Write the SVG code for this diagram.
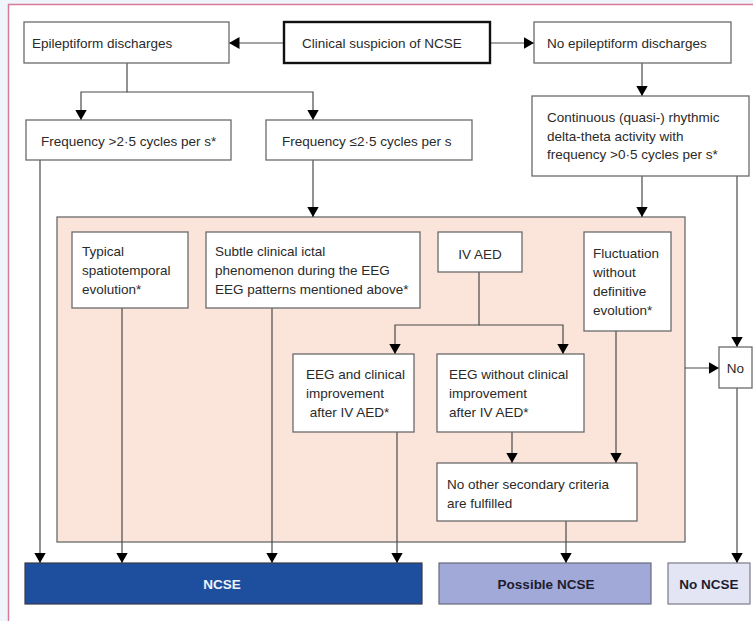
<svg xmlns="http://www.w3.org/2000/svg" width="753" height="621" viewBox="0 0 753 621">
  <style>
    .box { fill: #ffffff; stroke: #6a6a6a; stroke-width: 1.3; }
    .t { font-family: "Liberation Sans", Arial, sans-serif; font-size: 13.5px; fill: #2a2a2a; }
    .tb { font-family: "Liberation Sans", Arial, sans-serif; font-size: 13.5px; font-weight: bold; text-anchor: middle; }
    .conn path { fill: none; stroke: #4a4a4a; stroke-width: 1.2; }
    .arrow { marker-end: url(#head); }
  </style>
  <defs>
    <marker id="head" markerUnits="userSpaceOnUse" markerWidth="11" markerHeight="12" refX="10.5" refY="6" orient="auto">
      <path d="M0,0 L10.5,6 L0,12 z" fill="#000000"/>
    </marker>
  </defs>

  <!-- page frame -->
  <rect x="0" y="0" width="753" height="621" fill="#eef6fb"/>
  <rect x="8" y="4" width="745" height="617" fill="#ffffff"/>
  <path d="M8.5,621 V4.5 H753" fill="none" stroke="#d9789a" stroke-width="1.5"/>

  <!-- shaded secondary-criteria panel -->
  <g id="panel">
    <rect x="57" y="217" width="628" height="325" fill="#fbe4d9" stroke="#6a6a6a" stroke-width="1.3"/>
  </g>

  <g class="conn">
    <path class="arrow" d="M284,43 H229"/>
    <path class="arrow" d="M490,43 H534"/>
    <path class="arrow" d="M127,63 V92 H81 V120"/>
    <path class="arrow" d="M127,92 H313 V120"/>
    <path class="arrow" d="M40,160 V563"/>
    <path class="arrow" d="M313,160 V217"/>
    <path class="arrow" d="M642,63 V96"/>
    <path class="arrow" d="M642,176 V217"/>
    <path class="arrow" d="M737,176 V347"/>
    <path class="arrow" d="M122,308 V563"/>
    <path class="arrow" d="M272,308 V563"/>
    <path class="arrow" d="M479,272 V325 H395 V354"/>
    <path class="arrow" d="M479,325 H563 V354"/>
    <path class="arrow" d="M397,432 V563"/>
    <path class="arrow" d="M512,432 V463"/>
    <path class="arrow" d="M616,331 V463"/>
    <path class="arrow" d="M566,521 V563"/>
    <path class="arrow" d="M685,368 H719"/>
    <path class="arrow" d="M737,388 V563"/>
  </g>

  <g id="clinical-suspicion">
    <rect x="284" y="22" width="206" height="41" fill="#ffffff" stroke="#111111" stroke-width="2.4"/>
    <text class="t" x="302" y="48">Clinical suspicion of NCSE</text>
  </g>

  <g id="epileptiform">
    <rect class="box" x="24" y="22" width="205" height="41"/>
    <text class="t" x="32" y="48">Epileptiform discharges</text>
  </g>

  <g id="no-epileptiform">
    <rect class="box" x="534" y="22" width="197" height="41"/>
    <text class="t" x="547" y="48">No epileptiform discharges</text>
  </g>

  <g id="freq-high">
    <rect class="box" x="26" y="120" width="205" height="40"/>
    <text class="t" x="41" y="146">Frequency &gt;2·5 cycles per s*</text>
  </g>

  <g id="freq-low">
    <rect class="box" x="266" y="120" width="206" height="40"/>
    <text class="t" x="282" y="146">Frequency ≤2·5 cycles per s</text>
  </g>

  <g id="rhythmic-delta-theta">
    <rect class="box" x="532" y="96" width="217" height="80"/>
    <text class="t" x="547" y="122">Continuous (quasi-) rhythmic</text>
    <text class="t" x="547" y="141">delta-theta activity with</text>
    <text class="t" x="547" y="159">frequency &gt;0·5 cycles per s*</text>
  </g>

  <g id="typical-evolution">
    <rect class="box" x="72" y="232" width="116" height="76"/>
    <text class="t" x="82" y="256">Typical</text>
    <text class="t" x="82" y="275">spatiotemporal</text>
    <text class="t" x="82" y="294">evolution*</text>
  </g>

  <g id="subtle-ictal">
    <rect class="box" x="206" y="232" width="214" height="76"/>
    <text class="t" x="215" y="256">Subtle clinical ictal</text>
    <text class="t" x="215" y="275">phenomenon during the EEG</text>
    <text class="t" x="215" y="294">EEG patterns mentioned above*</text>
  </g>

  <g id="iv-aed">
    <rect class="box" x="438" y="232" width="84" height="40"/>
    <text class="t" x="480" y="259" text-anchor="middle">IV AED</text>
  </g>

  <g id="fluctuation">
    <rect class="box" x="584" y="232" width="87" height="99"/>
    <text class="t" x="593" y="258">Fluctuation</text>
    <text class="t" x="593" y="277">without</text>
    <text class="t" x="593" y="296">definitive</text>
    <text class="t" x="593" y="315">evolution*</text>
  </g>

  <g id="eeg-clinical-improvement">
    <rect class="box" x="293" y="354" width="121" height="78"/>
    <text class="t" x="306" y="379">EEG and clinical</text>
    <text class="t" x="306" y="398">improvement</text>
    <text class="t" x="306" y="417" xml:space="preserve"> after IV AED*</text>
  </g>

  <g id="eeg-no-clinical-improvement">
    <rect class="box" x="437" y="354" width="147" height="78"/>
    <text class="t" x="449" y="379">EEG without clinical</text>
    <text class="t" x="449" y="398">improvement</text>
    <text class="t" x="449" y="417">after IV AED*</text>
  </g>

  <g id="no-secondary-criteria">
    <rect class="box" x="437" y="463" width="200" height="58"/>
    <text class="t" x="447" y="489">No other secondary criteria</text>
    <text class="t" x="447" y="508">are fulfilled</text>
  </g>

  <g id="no">
    <rect class="box" x="719" y="347" width="33" height="41"/>
    <text class="t" x="735.5" y="373" text-anchor="middle">No</text>
  </g>

  <g id="ncse">
    <rect x="25" y="563" width="397" height="41" fill="#1e4f9f" stroke="#3a3a4a" stroke-width="1.2"/>
    <text class="tb" x="222" y="589" fill="#eef2fa">NCSE</text>
  </g>

  <g id="possible-ncse">
    <rect x="439" y="563" width="212" height="41" fill="#a1a9d8" stroke="#6a6a7a" stroke-width="1.2"/>
    <text class="tb" x="546" y="589" fill="#1c1c30">Possible NCSE</text>
  </g>

  <g id="no-ncse">
    <rect x="668" y="563" width="82" height="41" fill="#e3e5f5" stroke="#7a7a8a" stroke-width="1.2"/>
    <text class="tb" x="709" y="589" fill="#1c1c30">No NCSE</text>
  </g>
</svg>
